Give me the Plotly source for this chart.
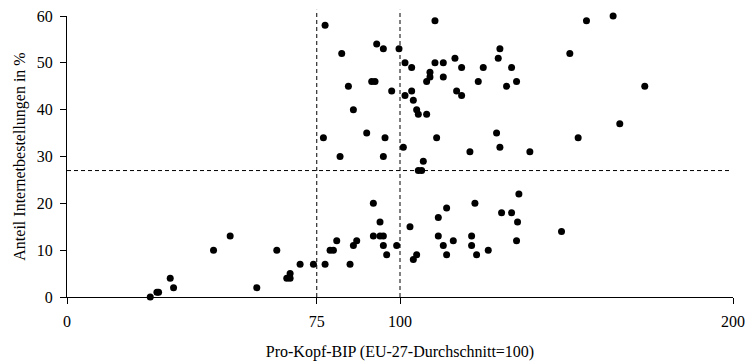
import plotly.graph_objects as go

bip = [25, 27, 27.5, 31, 32, 44, 49, 57, 63, 66, 67, 67, 70, 74, 77.5, 77, 77.5,
       79, 80, 81, 82, 82.5, 84.5, 85, 86, 86, 87, 90, 92, 91.5, 92.5, 92, 94, 95,
       93, 94, 95, 95, 95, 95.5, 96, 97.5, 99, 99.7, 101, 101.5, 101.5, 103, 103.5,
       103.5, 104, 104, 105, 105.5, 105, 105.5, 106.5, 107, 108, 108, 109, 109,
       110.5, 110.5, 111, 111.5, 111.5, 113, 113, 113, 114, 114, 116, 116.5, 117,
       118.5, 118.5, 121, 121.5, 121.5, 122.5, 123, 123.5, 125, 126.5, 129, 129.5,
       130, 130, 130.5, 132, 133.5, 133.5, 135, 135, 135.3, 135.7, 139, 148.5, 151,
       153.5, 156, 164, 166, 173.5]
anteil = [0, 1, 1, 4, 2, 10, 13, 2, 10, 4, 4, 5, 7, 7, 7, 34, 58,
          10, 10, 12, 30, 52, 45, 7, 40, 11, 12, 35, 20, 46, 46, 13, 13, 13,
          54, 16, 11, 53, 30, 34, 9, 44, 11, 53, 32, 43, 50, 15, 49,
          44, 42, 8, 40, 39, 9, 27, 27, 29, 46, 39, 48, 47,
          59, 50, 34, 17, 13, 11, 50, 47, 19, 9, 12, 51, 44,
          49, 43, 31, 13, 11, 20, 9, 46, 49, 10, 35, 51,
          32, 53, 18, 45, 18, 49, 46, 12, 16, 22, 31, 14, 52,
          34, 59, 60, 37, 45]

x_ticks = [0, 75, 100, 200]
y_ticks = [0, 10, 20, 30, 40, 50, 60]
x_ref_lines = [75, 100]
y_ref_line = 27

fig = go.Figure()
fig.add_trace(go.Scatter(x=bip, y=anteil, mode="markers",
                         marker=dict(color="black", size=7),
                         cliponaxis=False, showlegend=False,
                         hoverinfo="x+y"))

dash = "4px,3px"
for xv in x_ref_lines:
    fig.add_shape(type="line", xref="x", yref="paper", x0=xv, x1=xv, y0=0, y1=1.022,
                  line=dict(color="black", width=1, dash=dash))
fig.add_shape(type="line", xref="x", yref="y", x0=0, x1=199, y0=y_ref_line, y1=y_ref_line,
              line=dict(color="black", width=1, dash=dash))

font = "Liberation Serif, Times New Roman, serif"
fig.update_layout(
    width=745, height=363,
    margin=dict(l=67, r=12, t=16, b=66),
    paper_bgcolor="white", plot_bgcolor="white",
    font=dict(family=font, color="black", size=15),
    xaxis=dict(range=[0, 200], tickvals=x_ticks, ticktext=[str(v) for v in x_ticks],
               showgrid=False, zeroline=False, showline=True, linecolor="black",
               linewidth=1, ticks="outside", ticklen=6, tickcolor="black",
               ticklabelstandoff=4, tickfont=dict(size=16, family=font),
               automargin=False,
               title=dict(text="Pro-Kopf-BIP (EU-27-Durchschnitt=100)",
                          font=dict(size=16, family=font), standoff=16)),
    yaxis=dict(range=[0, 60], tickvals=y_ticks,
               showgrid=False, zeroline=False, showline=True, linecolor="black",
               linewidth=1, ticks="outside", ticklen=6, tickcolor="black",
               ticklabelstandoff=4, tickfont=dict(size=16, family=font),
               automargin=False,
               title=dict(text="Anteil Internetbestellungen in %",
                          font=dict(size=16, family=font), standoff=7)),
)
fig.write_html("out.html")
